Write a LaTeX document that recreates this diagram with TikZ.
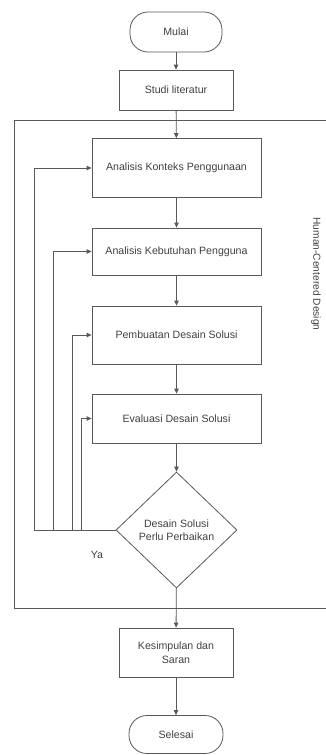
\documentclass[tikz,border=0pt]{standalone}
\usepackage{fontspec}
\setmainfont{Liberation Sans}
\usetikzlibrary{shapes.geometric,arrows.meta}
\tikzset{
	linecol/.style={draw=black!65, line width=0.8pt},
	box/.style={linecol, rectangle, align=center, text=black!75, font=\fontsize{10.6}{13.5}\selectfont},
	term/.style={box, rounded corners=18pt},
	decide/.style={linecol, diamond, aspect=1.04, inner sep=0pt, align=center, text=black!75, font=\fontsize{10.6}{13.5}\selectfont},
	arr/.style={linecol, -{Triangle[length=5pt,width=4.5pt]}}
}
\begin{document}
	\begin{tikzpicture}[x=1pt, y=-1pt]
		\useasboundingbox (0,0) rectangle (326,755);
		\draw[linecol] (14,120) rectangle (332,608);
		\node[term, minimum width=92pt, minimum height=40pt] (mulai) at (176,32) {Mulai};
		\node[box, minimum width=114pt, minimum height=40pt] (studi) at (176,90) {Studi literatur};
		\node[box, minimum width=169pt, minimum height=59pt] (konteks) at (176.5,168) {Analisis Konteks Penggunaan};
		\node[box, minimum width=169pt, minimum height=47pt] (kebutuhan) at (176.5,251.5) {Analisis Kebutuhan Pengguna};
		\node[box, minimum width=169pt, minimum height=58pt] (pembuatan) at (176.5,335) {Pembuatan Desain Solusi};
		\node[box, minimum width=169pt, minimum height=49pt] (evaluasi) at (176.5,418.5) {Evaluasi Desain Solusi};
		\node[decide, minimum width=121pt, minimum height=116pt] (perbaikan) at (176.5,530) {Desain Solusi\\Perlu Perbaikan};
		\node[box, minimum width=114pt, minimum height=49pt] (kesimpulan) at (176,652.5) {Kesimpulan dan\\Saran};
		\node[term, minimum width=94pt, minimum height=38pt] (selesai) at (176,734.5) {Selesai};
		\node[text=black!75, font=\fontsize{10.6}{12}\selectfont] (ya) at (97,555) {Ya};
		\node[rotate=-90, text=black!75, font=\fontsize{10.2}{12}\selectfont] (hcd) at (316,274) {Human-Centered Design};
		% alur utama
		\draw[arr] (mulai) -- (studi);
		\draw[arr] (studi) -- (konteks);
		\draw[arr] (konteks) -- (kebutuhan);
		\draw[arr] (kebutuhan) -- (pembuatan);
		\draw[arr] (pembuatan) -- (evaluasi);
		\draw[arr] (evaluasi) -- (perbaikan);
		\draw[arr] (perbaikan) -- (kesimpulan);
		\draw[arr] (kesimpulan) -- (selesai);
		% perulangan
		\draw[arr] (perbaikan.west) -- ++(-81.5,0) |- (konteks.west);
		\draw[arr] (perbaikan.west) -- ++(-62.5,0) |- (kebutuhan.west);
		\draw[arr] (perbaikan.west) -- ++(-43.5,0) |- (pembuatan.west);
		\draw[arr] (perbaikan.west) -- ++(-34.5,0) |- (evaluasi.west);
	\end{tikzpicture}
\end{document}
